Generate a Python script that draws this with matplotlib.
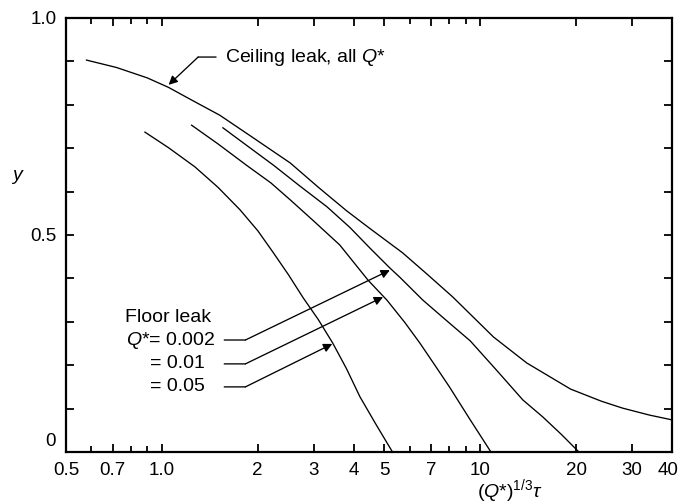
import numpy as np
import matplotlib
matplotlib.use("Agg")
import matplotlib.pyplot as plt
import matplotlib.transforms as mtransforms
from matplotlib.ticker import FixedLocator, FixedFormatter, MultipleLocator, FuncFormatter

plt.rcParams['font.family'] = ['Liberation Sans', 'DejaVu Sans']
plt.rcParams['mathtext.fontset'] = 'custom'
plt.rcParams['mathtext.rm'] = 'Liberation Sans'
plt.rcParams['mathtext.it'] = 'Liberation Sans:italic'

# curves: x = (Q*)^(1/3) tau, y = layer height fraction
ceiling_x = [0.58, 0.72, 0.9, 1.05, 1.24, 1.52, 1.9, 2.53, 3.1, 3.8, 4.5, 5.7, 6.8, 8.2, 11.0, 14.0, 19.2, 24.0, 28.0, 34.0, 40.0]
ceiling_y = [0.903, 0.886, 0.862, 0.840, 0.811, 0.776, 0.728, 0.666, 0.610, 0.556, 0.515, 0.459, 0.410, 0.357, 0.265, 0.205, 0.145, 0.117, 0.101, 0.085, 0.074]

floor_005_x = [0.885, 1.05, 1.27, 1.5, 1.76, 2.0, 2.24, 2.5, 2.78, 3.1, 3.44, 3.8, 4.19, 4.7, 5.3]
floor_005_y = [0.737, 0.701, 0.657, 0.610, 0.558, 0.510, 0.459, 0.408, 0.355, 0.305, 0.251, 0.192, 0.127, 0.064, 0.0]

floor_001_x = [1.24, 1.5, 1.85, 2.2, 2.53, 3.0, 3.62, 4.44, 5.09, 5.8, 6.46, 7.2, 8.0, 9.3, 10.8]
floor_001_y = [0.753, 0.710, 0.660, 0.620, 0.581, 0.532, 0.477, 0.396, 0.350, 0.298, 0.251, 0.200, 0.150, 0.074, 0.0]

floor_0002_x = [1.555, 1.85, 2.24, 2.7, 3.30, 3.9, 4.5, 5.2, 5.6, 6.6, 8.0, 9.3, 11.2, 13.6, 15.7, 18.0, 20.4]
floor_0002_y = [0.747, 0.706, 0.661, 0.614, 0.565, 0.517, 0.470, 0.424, 0.402, 0.350, 0.297, 0.256, 0.190, 0.120, 0.081, 0.040, 0.0]

x_major = [0.5, 0.7, 1.0, 2, 3, 4, 5, 7, 10, 20, 30, 40]
x_major_labels = ['0.5', '0.7', '1.0', '2', '3', '4', '5', '7', '10', '20', '30', '']
x_minor = [0.6, 0.8, 0.9, 6, 8, 9]

fig = plt.figure(figsize=(6.81, 5.04), dpi=100)
ax = fig.add_axes([0.0969, 0.1032, 0.8899, 0.8611])

lw = 0.95
for xs, ys in [(ceiling_x, ceiling_y), (floor_005_x, floor_005_y),
               (floor_001_x, floor_001_y), (floor_0002_x, floor_0002_y)]:
    ax.plot(xs, ys, color='black', lw=lw)

ax.set_xscale('log')
ax.set_xlim(0.5, 40)
ax.set_ylim(0, 1.0)

ax.xaxis.set_major_locator(FixedLocator(x_major))
ax.xaxis.set_major_formatter(FixedFormatter(x_major_labels))
ax.xaxis.set_minor_locator(FixedLocator(x_minor))
ax.xaxis.set_minor_formatter(FixedFormatter([''] * len(x_minor)))

# "0" and "40" are nudged off their ticks, drawn separately below
ax.yaxis.set_major_locator(MultipleLocator(0.1))
ax.yaxis.set_major_formatter(FuncFormatter(
    lambda v, p: {5: '0.5', 10: '1.0'}.get(int(round(v * 10)), '')))

tsize = 13.5
ax.tick_params(which='both', direction='in', top=True, right=True, width=1.3, labelsize=tsize, pad=7)
ax.tick_params(which='major', length=6)
ax.tick_params(which='minor', length=4)
for s in ax.spines.values():
    s.set_linewidth(1.6)

zero_tr = mtransforms.offset_copy(ax.transAxes, fig=fig, x=-7.5, y=7.5, units='points')
ax.text(0, 0, '0', transform=zero_tr, fontsize=tsize, ha='right', va='center')
forty_tr = mtransforms.offset_copy(ax.transAxes, fig=fig, x=-3, y=-7, units='points')
ax.text(1, 0, '40', transform=forty_tr, fontsize=tsize, ha='center', va='top')

ax.text(-0.081, 0.638, 'y', transform=ax.transAxes, fontsize=14, style='italic',
        ha='center', va='center')
ax.text(0.733, -0.104, r'($Q$*)$^{1/3}\tau$', transform=ax.transAxes, fontsize=14,
        ha='center', va='baseline')

arrow = dict(arrowstyle='-|>', color='black', lw=lw, shrinkA=0, shrinkB=0, mutation_scale=13)
line = dict(arrowstyle='-', color='black', lw=lw, shrinkA=0, shrinkB=0)

fs = 14
# ceiling label
ax.text(1.58, 0.91, 'Ceiling leak, all $Q$*', fontsize=fs, ha='left', va='center')
ax.annotate('', xy=(1.30, 0.91), xytext=(1.48, 0.91), arrowprops=line)
ax.annotate('', xy=(1.05, 0.846), xytext=(1.30, 0.91), arrowprops=arrow)

# floor labels
ax.text(0.766, 0.311, 'Floor leak', fontsize=fs, ha='left', va='center')
ax.text(0.772, 0.258, '$Q$*= 0.002', fontsize=fs, ha='left', va='center')
ax.text(0.92, 0.203, '= 0.01', fontsize=fs, ha='left', va='center')
ax.text(0.92, 0.150, '= 0.05', fontsize=fs, ha='left', va='center')

for yl, tip in [(0.258, (5.2, 0.419)), (0.203, (4.95, 0.357)), (0.150, (3.43, 0.249))]:
    ax.annotate('', xy=(1.83, yl), xytext=(1.57, yl), arrowprops=line)
    ax.annotate('', xy=tip, xytext=(1.83, yl), arrowprops=arrow)

fig.savefig('out.png', dpi=100)
